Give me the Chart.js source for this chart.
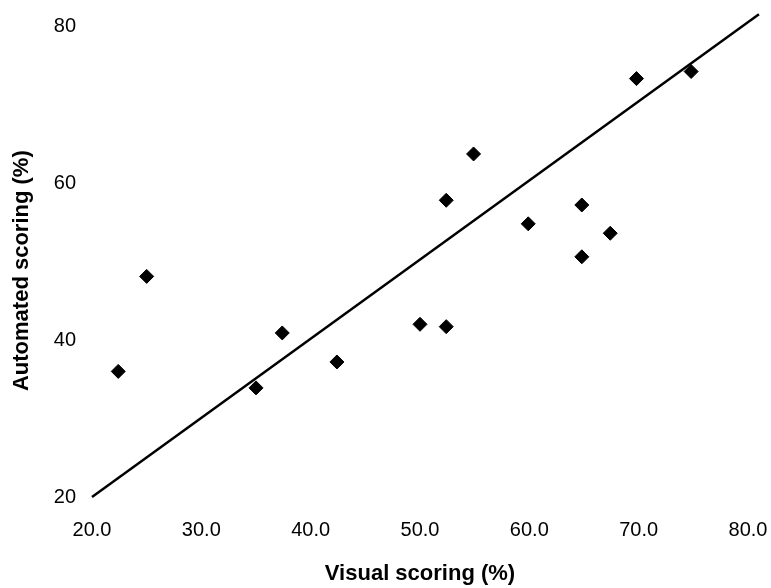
<!DOCTYPE html>
<html>
<head>
<meta charset="utf-8">
<script src="https://cdn.jsdelivr.net/npm/chart.js@4/dist/chart.umd.min.js"></script>
<style>
  html, body { margin: 0; padding: 0; background: #fff; }
  #wrap { width: 771px; height: 588px; }
</style>
</head>
<body>
<div id="wrap"><canvas id="scoreChart"></canvas></div>
<script>
// visual vs automated scoring (%)
const visualScores    = [22.4, 25.0, 35.0, 37.4, 42.4, 50.0, 52.4, 52.4, 54.9, 59.9, 64.8, 64.8, 67.4, 69.8, 74.8];
const automatedScores = [36.0, 48.1, 33.9, 40.9, 37.2, 42.0, 41.7, 57.8, 63.7, 54.8, 57.2, 50.6, 53.6, 73.3, 74.2];
const fitLineX = [20, 81];
const fitLineY = [20, 81.5];
const xTicks = [20, 30, 40, 50, 60, 70, 80];
const yTicks = [20, 40, 60, 80];

const points = visualScores.map((v, i) => ({ x: v, y: automatedScores[i] }));
const fitLine = fitLineX.map((v, i) => ({ x: v, y: fitLineY[i] }));

Chart.defaults.font.family = "'Liberation Sans', Arial, sans-serif";
Chart.defaults.color = '#000';

const ctx = document.getElementById("scoreChart").getContext("2d");
new Chart(ctx, {
    type: 'scatter',
    data: {
        datasets: [{
            label: 'Samples',
            data: points,
            pointStyle: 'rectRot',
            pointRadius: 7,
            pointHoverRadius: 7,
            backgroundColor: '#000',
            borderColor: '#000',
            borderWidth: 1
        }, {
            label: 'Fit',
            type: 'line',
            data: fitLine,
            borderColor: '#000',
            borderWidth: 2.5,
            pointRadius: 0,
            fill: false,
            clip: false
        }]
    },
    options: {
        responsive: true,
        maintainAspectRatio: false,
        animation: false,
        layout: { padding: { top: 26, right: 23, left: 0, bottom: 0 } },
        plugins: { legend: { display: false }, tooltip: { enabled: false } },
        scales: {
            x: {
                type: 'linear',
                min: 20,
                max: 80,
                // ticks hidden, tickLength only used as spacing under the axis
                grid: { display: false, drawTicks: true, tickLength: 19 },
                border: { display: false },
                afterBuildTicks: axis => { axis.ticks = xTicks.map(v => ({ value: v })); },
                afterFit: axis => { axis.height = 91; },
                ticks: {
                    padding: 2,
                    font: { size: 20 },
                    callback: v => Number(v).toFixed(1)
                },
                title: {
                    display: true,
                    text: 'Visual scoring (%)',
                    font: { size: 22, weight: 'bold' },
                    padding: { top: 0, bottom: 1 }
                }
            },
            y: {
                type: 'linear',
                min: 20,
                max: 80,
                grid: { display: false, drawTicks: true, tickLength: 14 },
                border: { display: false },
                afterBuildTicks: axis => { axis.ticks = yTicks.map(v => ({ value: v })); },
                afterFit: axis => { axis.width = 92; },
                ticks: {
                    padding: 2,
                    font: { size: 20 }
                },
                title: {
                    display: true,
                    text: 'Automated scoring (%)   ',
                    font: { size: 22, weight: 'bold' },
                    padding: { top: 9, bottom: 0 }
                }
            }
        }
    }
});
</script>
</body>
</html>
